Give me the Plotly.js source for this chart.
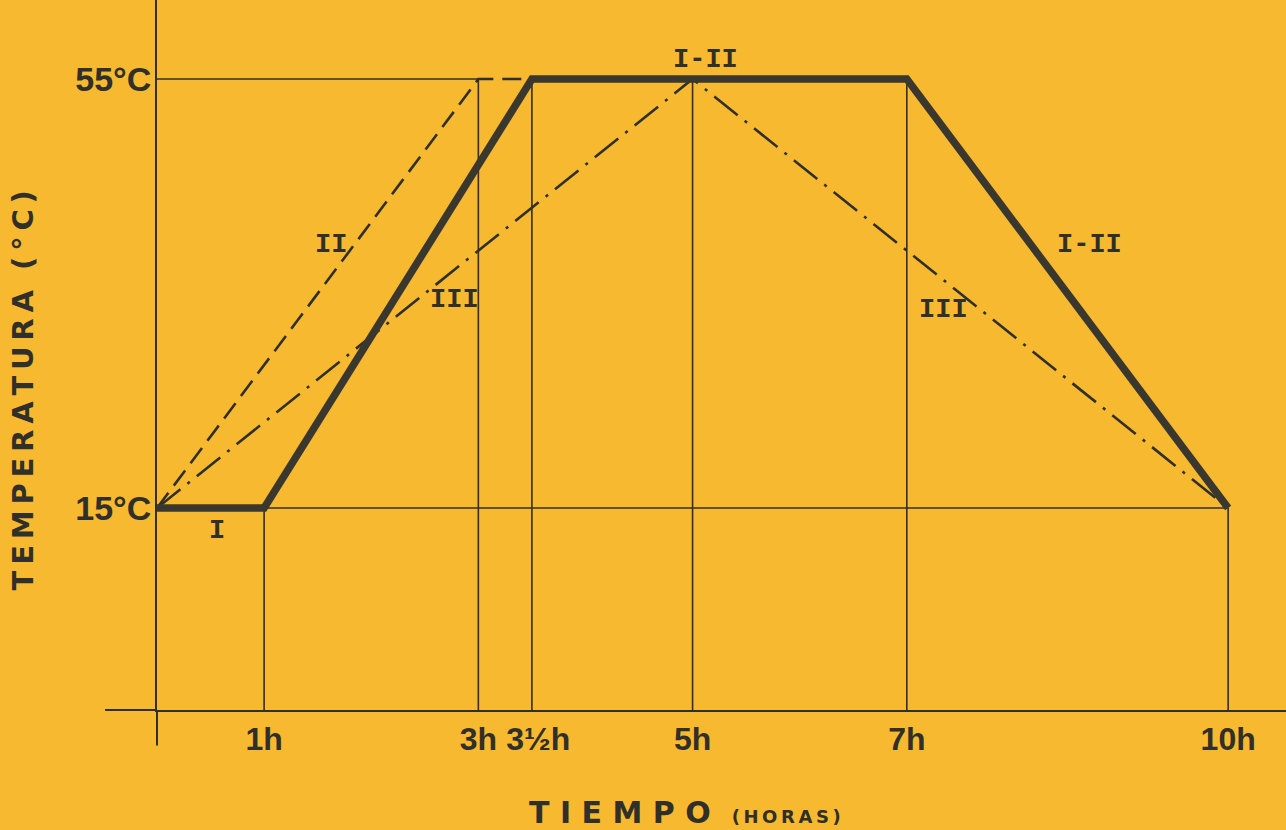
<!DOCTYPE html>
<html><head><meta charset="utf-8">
<script src="https://cdn.plot.ly/plotly-3.0.1.min.js"></script>
<style>html,body{margin:0;padding:0;background:#F6B930;}#chart{width:1286px;height:830px;}</style>
</head><body><div id="chart"></div>
<script>
// ---- data ----
const tickHours = [1, 3, 3.5, 5, 7, 10];
const tickHourLabels = ['1h', '3h', '\u2009\u20093½h', '5h', '7h', '10h'];
const tempTicks = [15, 55];
const tempTickLabels = ['15°C', '55°C'];

const curveI_II_x = [0, 1, 3.5, 7, 10];
const curveI_II_y = [15, 15, 55, 55, 15];
const curveII_x = [0, 3, 3.5];
const curveII_y = [15, 55, 55];
const curveIII_x = [0, 5, 10];
const curveIII_y = [15, 55, 15];

const guideX = [1, 3, 3.5, 5, 7, 10];
const guideTop = [15, 55, 55, 55, 55, 15];
const hGuideY = [55, 15];
const hGuideEnd = [3, 10];

const labelText = ['I', 'II', 'III', 'I-II', 'III', 'I-II'];
const labelHour = [0.56, 1.62, 2.78, 5.12, 7.34, 8.71];
const labelTemp = [12.9, 39.5, 34.4, 56.8, 33.5, 39.5];

// ---- styling / build ----
const INK = '#302f29';
const BG = '#F6B930';
const xRange = [0, 10.54];
const yRange = [-3.83, 62.37];

const gx = [], gy = [];
guideX.forEach((x, i) => { gx.push(x, x, null); gy.push(guideTop[i], yRange[0], null); });
hGuideY.forEach((y, i) => { gx.push(0, hGuideEnd[i], null); gy.push(y, y, null); });

const traces = [
  {x: gx, y: gy, mode: 'lines', line: {color: INK, width: 1.6}, hoverinfo: 'skip', showlegend: false},
  {x: curveIII_x, y: curveIII_y, mode: 'lines', name: 'III', line: {color: INK, width: 2.6, dash: '30px,9px,3px,9px'}, showlegend: false},
  {x: curveII_x, y: curveII_y, mode: 'lines', name: 'II', line: {color: INK, width: 2.6, dash: '19px,9px'}, showlegend: false},
  {x: curveI_II_x, y: curveI_II_y, mode: 'lines', name: 'I-II', line: {color: '#3a382e', width: 7.5}, showlegend: false}
];

const nb = n => '\u00a0'.repeat(n) + '\u200b';
const spaced = s => s.split('').join('\u2009');

const annotations = labelText.map((t, i) => ({
  x: labelHour[i], y: labelTemp[i], xref: 'x', yref: 'y', text: t, showarrow: false,
  font: {family: 'Liberation Mono, DejaVu Sans Mono, monospace', size: 27, color: INK, weight: 'bold'}
}));

const layout = {
  width: 1286, height: 830,
  paper_bgcolor: BG, plot_bgcolor: BG,
  margin: {l: 157, r: 0, t: 0, b: 120},
  xaxis: {
    range: xRange, showgrid: false, zeroline: false,
    showline: true, linewidth: 2, linecolor: INK, ticks: '',
    tickvals: tickHours, ticktext: tickHourLabels, tickangle: 0,
    tickfont: {family: 'Liberation Sans, Arial, sans-serif', size: 32, color: INK, weight: 'bold'},
    ticklabelstandoff: 0,
    title: {
      text: 'T I E M P O' + '\u00a0\u00a0' + '<span style="font-size:18px">(\u2009H\u2009O\u2009R\u2009A\u2009S\u2009)</span>' + nb(7),
      font: {family: 'DejaVu Sans, sans-serif', size: 30, color: INK, weight: 'bold'},
      standoff: 48
    }
  },
  yaxis: {
    range: yRange, showgrid: false, zeroline: false,
    showline: true, linewidth: 2, linecolor: INK, ticks: '',
    tickvals: tempTicks, ticktext: tempTickLabels,
    tickfont: {family: 'Liberation Sans, Arial, sans-serif', size: 34, color: INK, weight: 'bold'},
    ticklabelstandoff: -3,
    title: {
      text: spaced('TEMPERATURA') + '\u00a0\u00a0' + spaced('(°C)') + nb(7),
      font: {family: 'DejaVu Sans, sans-serif', size: 29, color: INK, weight: 'bold'},
      standoff: 33
    }
  },
  shapes: [
    {type: 'line', xref: 'paper', yref: 'paper', x0: -0.046, x1: 0, y0: 0, y1: 0, line: {color: INK, width: 2}},
    {type: 'line', xref: 'paper', yref: 'paper', x0: 0, x1: 0, y0: 0, y1: -0.05, line: {color: INK, width: 2}}
  ],
  annotations: annotations
};

Plotly.newPlot('chart', traces, layout, {displayModeBar: false, staticPlot: true});
</script>
</body></html>
